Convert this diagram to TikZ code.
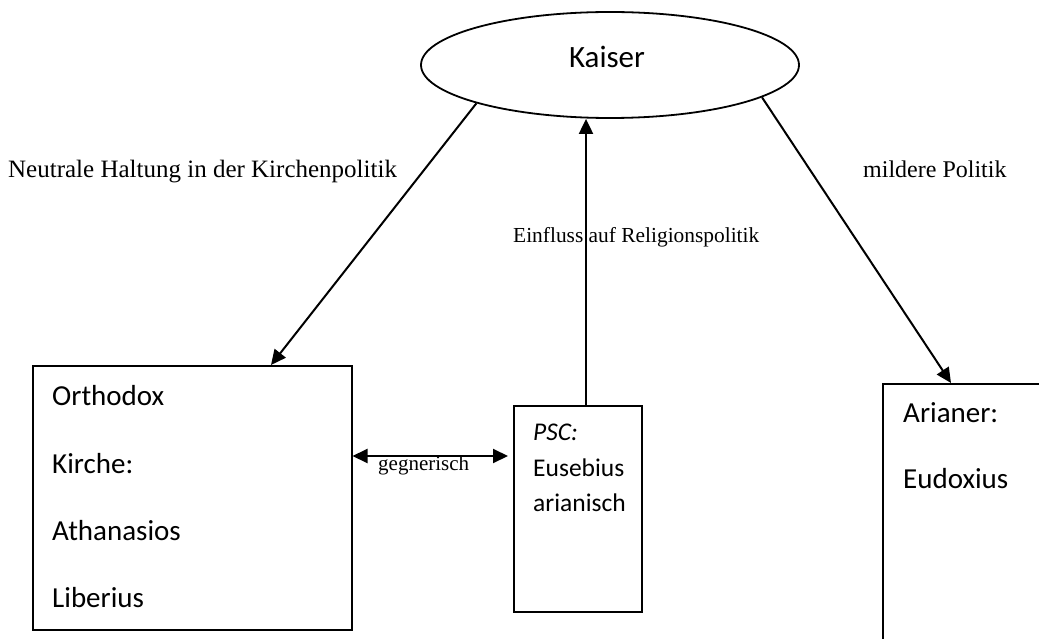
\documentclass[tikz,border=0pt]{standalone}
\usepackage{fontspec}
\setmainfont{Liberation Serif}
\newfontfamily\calfont{Carlito}
\usetikzlibrary{arrows.meta,shapes.geometric}
\begin{document}
\begin{tikzpicture}[x=1pt,y=-1pt,
  box/.style={draw, line width=1.5pt, rectangle, inner sep=0pt, anchor=north west},
  arr/.style={-{Triangle[length=15pt,width=14pt]}, line width=2pt},
  darr/.style={{Triangle[length=15pt,width=14pt]}-{Triangle[length=15pt,width=14pt]}, line width=2pt},
  boxtxt/.style={anchor=base west, inner sep=0pt, font=\calfont\fontsize{29}{35}\selectfont},
  midtxt/.style={anchor=base west, inner sep=0pt, font=\calfont\fontsize{25.5}{31}\selectfont},
  lbl/.style={anchor=base west, inner sep=0pt, font=\fontsize{24}{28}\selectfont},
  slbl/.style={anchor=base west, inner sep=0pt, font=\fontsize{21}{25}\selectfont}]
\useasboundingbox (0,0) rectangle (1039,639);
\clip (0,0) rectangle (1039,639);
\fill[white] (0,0) rectangle (1039,639);
% Kaiser
\node[draw, ellipse, line width=1.8pt, minimum width=378pt, minimum height=106pt, inner sep=0pt] (kaiser) at (610,65) {};
\node[inner sep=0pt, font=\calfont\fontsize{31}{36}\selectfont] (kaisertxt) at (607,57) {Kaiser};
% boxes
\node[box, minimum width=319pt, minimum height=264pt] (left) at (32,365) {};
\node[box, minimum width=128pt, minimum height=206pt] (mid) at (513,405) {};
\node[box, minimum width=200pt, minimum height=300pt] (right) at (882,383) {};
% box texts
\node[boxtxt] (t1) at (52,405) {Orthodox};
\node[boxtxt] (t2) at (52,473) {Kirche:};
\node[boxtxt] (t3) at (52,540) {Athanasios};
\node[boxtxt] (t4) at (52,607) {Liberius};
\node[midtxt] (m1) at (533,440) {\itshape PSC:};
\node[midtxt] (m2) at (533,476) {Eusebius};
\node[midtxt] (m3) at (533,511) {arianisch};
\node[boxtxt] (r1) at (903,422) {Arianer:};
\node[boxtxt] (r2) at (903,488) {Eudoxius};
% labels
\node[lbl, font=\fontsize{25}{29}\selectfont] (l1) at (8,178) {Neutrale Haltung in der Kirchenpolitik};
\node[lbl] (l2) at (863,178) {mildere Politik};
\node[slbl, font=\fontsize{21.4}{25}\selectfont] (l3) at (513,243) {Einfluss auf Religionspolitik};
\node[slbl] (l4) at (378,470) {gegnerisch};
% connectors
\draw[arr] (kaiser.196.7) -- ([xshift=239pt]left.north west);
\draw[arr] (kaiser.348.3) -- ([xshift=69pt]right.north west);
\coordinate (vs) at ([xshift=73pt]mid.north west);
\draw[arr] (vs) -- (vs |- kaiser.south);
\coordinate (g) at (0,456);
\draw[darr, shorten >=5pt] (g -| left.east) -- (g -| mid.west);
\end{tikzpicture}
\end{document}
